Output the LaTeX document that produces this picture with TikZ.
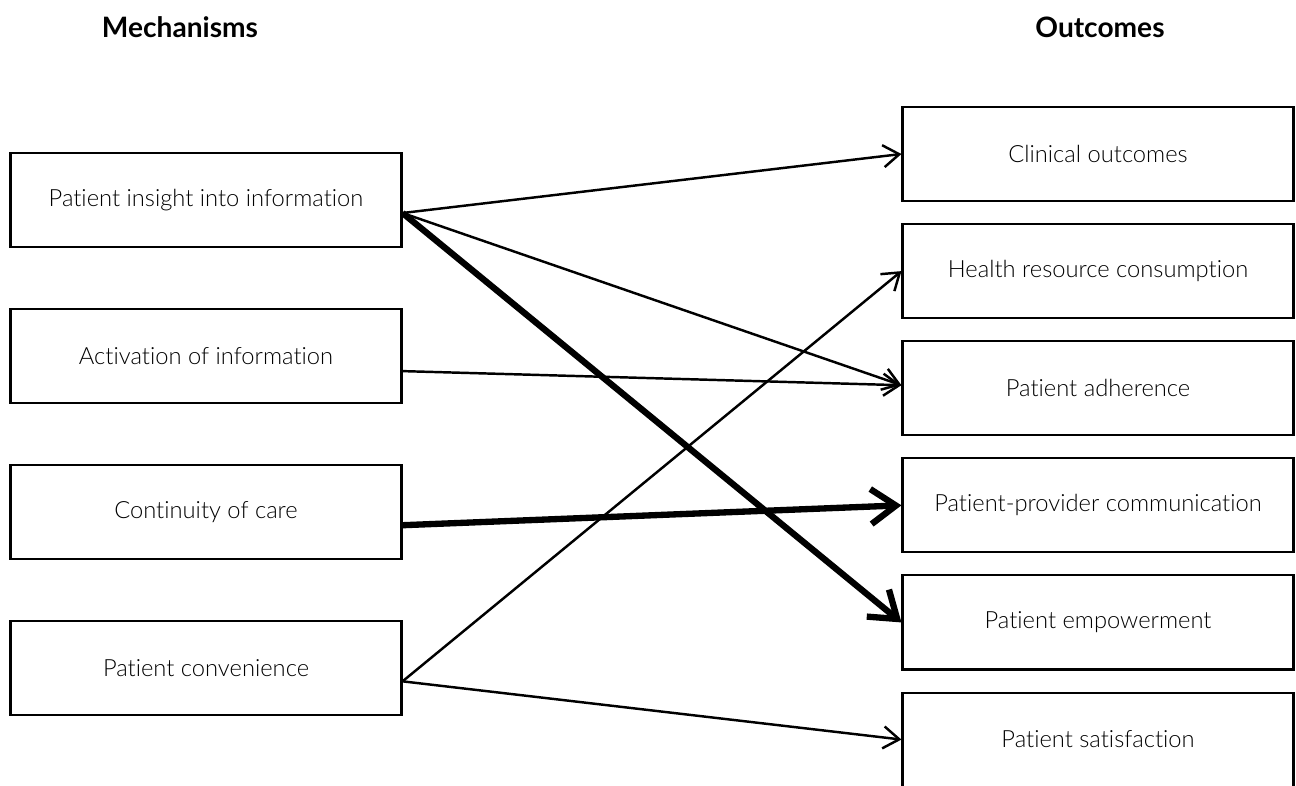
\documentclass[tikz,border=0pt]{standalone}
\usepackage{fontspec}
\setmainfont{Lato}
\newfontfamily\lightfont{Lato Light}[Ligatures=NoCommon]
\usetikzlibrary{positioning,arrows.meta}

\begin{document}
\begin{tikzpicture}[
    box/.style={draw, line width=1.2pt, minimum width=7.82cm, minimum height=1.88cm,
      font=\lightfont\fontsize{13.5}{16}\selectfont},
    head/.style={font=\bfseries\fontsize{16}{19}\selectfont},
    link/.style={-{Straight Barb[length=3.2mm,width=4.4mm]}, line width=1.4pt},
    strong/.style={-{Straight Barb[length=5mm,width=7mm]}, line width=3.6pt}]
  \useasboundingbox (0,0) rectangle (25.92,-15.70);

  \node[head] (M) at (3.6,-0.54) {Mechanisms};
  \node[head] (O) at (22.0,-0.54) {Outcomes};

  \node[box] (ins) at (4.12,-4.0) {Patient insight into information};
  \node[box, below=1.2cm of ins] (act) {Activation of information};
  \node[box, below=1.2cm of act] (con) {Continuity of care};
  \node[box, below=1.2cm of con] (cnv) {Patient convenience};

  \node[box] (cli) at (21.96,-3.08) {Clinical outcomes};
  \node[box, below=0.42cm of cli] (hea) {Health resource consumption};
  \node[box, below=0.42cm of hea] (adh) {Patient adherence};
  \node[box, below=0.42cm of adh] (com) {Patient-provider communication};
  \node[box, below=0.42cm of com] (emp) {Patient empowerment};
  \node[box, below=0.42cm of emp] (sat) {Patient satisfaction};

  \draw[link] ([yshift=-0.26cm]ins.east) to (cli.west);
  \draw[link] ([yshift=-0.26cm]ins.east) to ([yshift=0.06cm]adh.west);
  \draw[strong] ([yshift=-0.26cm]ins.east) to (emp.west);
  \draw[link] ([yshift=-0.3cm]act.east) to ([yshift=0.06cm]adh.west);
  \draw[strong] ([yshift=-0.26cm]con.east) to (com.west);
  \draw[link] ([yshift=-0.26cm]cnv.east) to (hea.west);
  \draw[link] ([yshift=-0.26cm]cnv.east) to (sat.west);

\end{tikzpicture}
\end{document}
